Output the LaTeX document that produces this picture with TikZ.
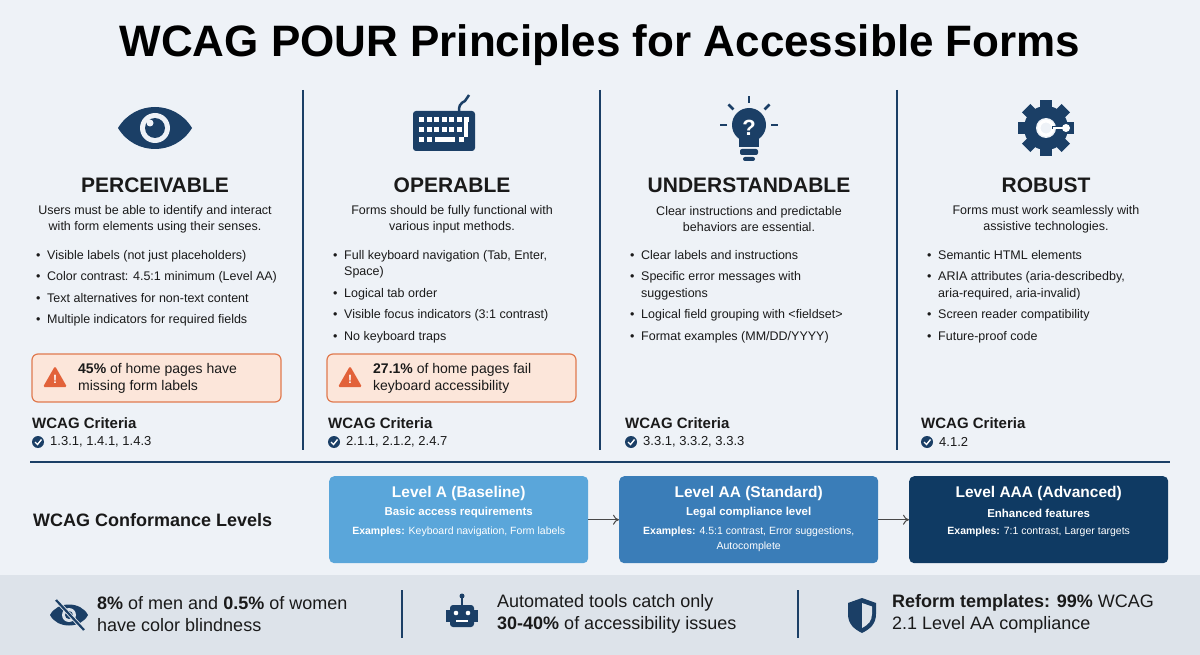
\documentclass[tikz,border=0pt]{standalone}
\usepackage{fontspec}
\setmainfont{Liberation Sans}
\usetikzlibrary{shapes.geometric,arrows.meta}
\definecolor{bg}{HTML}{EEF2F7}
\definecolor{navy}{HTML}{1B3F66}
\definecolor{ink}{HTML}{1A1A1A}
\definecolor{warnf}{HTML}{FCE6DA}
\definecolor{warnb}{HTML}{E07A4F}
\definecolor{warni}{HTML}{E2623A}
\definecolor{la}{HTML}{5AA6DA}
\definecolor{laa}{HTML}{3A7DB8}
\definecolor{laaa}{HTML}{0F3A63}
\definecolor{band}{HTML}{DDE3EA}
\begin{document}
\begin{tikzpicture}[x=1pt,y=-1pt,
  head/.style={font=\fontsize{21}{24}\selectfont\bfseries,text=ink},
  desc/.style={font=\fontsize{12.5}{16}\selectfont,text=ink,align=center},
  bul/.style={font=\fontsize{12.5}{16.5}\selectfont,text=ink,anchor=north west,align=left,inner sep=0},
  warn/.style={draw=warnb,line width=1.2pt,fill=warnf,rounded corners=6pt},
  crit/.style={font=\fontsize{15}{18}\selectfont\bfseries,text=ink,anchor=west,inner sep=0},
  critl/.style={font=\fontsize{13}{16}\selectfont,text=ink,anchor=west,inner sep=0},
  lvl/.style={rounded corners=5pt,minimum width=259pt,minimum height=87pt,anchor=north west},
  sep/.style={draw=navy,line width=1.2pt},
  stat/.style={font=\fontsize{18}{22}\selectfont,text=ink,anchor=west,align=left,inner sep=0}]
\useasboundingbox (0,0) rectangle (1200,655);
\fill[bg] (0,0) rectangle (1200,655);
\fill[band] (0,575) rectangle (1200,655);
\node[font=\fontsize{44}{50}\selectfont\bfseries,text=black] (title) at (600,45) {WCAG POUR Principles for Accessible Forms};
% separators
\foreach \x/\n in {303/s1,600/s2,897/s3}{\draw[sep] (\x,90) coordinate (\n a) -- (\x,450) coordinate (\n b);}
\draw[navy,line width=1.5pt] (30,462) coordinate (hl) -- (1170,462) coordinate (hr);
% eye
\fill[navy] (118,128) .. controls (135,100) and (175,100) .. (192,128) .. controls (175,156) and (135,156) .. (118,128) -- cycle;
\fill[bg] (155,128) circle (15);
\fill[navy] (155,128) circle (10);
\fill[bg] (150,123) circle (3.5);
% keyboard
\fill[navy,rounded corners=3pt] (413,111) rectangle (475,151);
\draw[navy,line width=2.5pt] (459,111) .. controls (459,100) and (465,104) .. (467,98) -- (469,95);
\foreach \i in {0,...,6}{\fill[white] (419+\i*7.5,117) rectangle ++(5,5);}
\foreach \i in {0,...,5}{\fill[white] (419+\i*7.5,127) rectangle ++(5,5);}
\fill[white] (419,137) rectangle ++(5,5); \fill[white] (427,137) rectangle ++(5,5);
\fill[white] (435,137) rectangle ++(20,5); \fill[white] (459,137) rectangle ++(5,5);
\fill[white] (464,122) rectangle ++(4,15);
% bulb
\fill[navy] (749,125) circle (17);
\fill[navy] (739,135) rectangle (759,147);
\fill[navy,rounded corners=2pt] (740,149) rectangle (758,155);
\fill[navy,rounded corners=2pt] (743,157) rectangle (755,161);
\node[text=white,font=\fontsize{22}{22}\selectfont\bfseries] (q) at (749,128) {?};
\foreach \a in {180,225,270,315,0}{\draw[navy,line width=2.5pt] (749,125)++(\a:22) -- ++(\a:7);}
% gear
\fill[navy] (1046,128) circle (22);
\foreach \a in {0,45,...,315}{\fill[navy,rotate around={\a:(1046,128)}] (1040,100) rectangle (1052,110);}
\fill[bg] (1046,128) circle (10);
\draw[white,line width=3pt] (1046,128) circle (7);
\draw[navy,line width=3pt] (1052,128) -- (1066,128);
\draw[white,line width=2.5pt] (1053,128) -- (1064,128);
\fill[white] (1066,128) circle (4);
% headings
\node[head] (h1) at (155,185) {PERCEIVABLE};
\node[head] (h2) at (452,185) {OPERABLE};
\node[head] (h3) at (749,185) {UNDERSTANDABLE};
\node[head] (h4) at (1046,185) {ROBUST};
\node[desc] (d1) at (155,219) {Users must be able to identify and interact\\with form elements using their senses.};
\node[desc] (d2) at (452,219) {Forms should be fully functional with\\various input methods.};
\node[desc] (d3) at (749,219) {Clear instructions and predictable\\behaviors are essential.};
\node[desc] (d4) at (1046,219) {Forms must work seamlessly with\\assistive technologies.};
% bullets
\newcommand{\bi}{\makebox[11pt][l]{\textbullet}}
\node[bul] (b1) at (36,250) {\bi Visible labels (not just placeholders)\\[5pt]\bi Color contrast: 4.5:1 minimum (Level AA)\\[5pt]\bi Text alternatives for non-text content\\[5pt]\bi Multiple indicators for required fields};
\node[bul] (b2) at (333,250) {\bi Full keyboard navigation (Tab, Enter,\\\hspace*{11pt}Space)\\[5pt]\bi Logical tab order\\[5pt]\bi Visible focus indicators (3:1 contrast)\\[5pt]\bi No keyboard traps};
\node[bul] (b3) at (630,250) {\bi Clear labels and instructions\\[5pt]\bi Specific error messages with\\\hspace*{11pt}suggestions\\[5pt]\bi Logical field grouping with <fieldset>\\[5pt]\bi Format examples (MM/DD/YYYY)};
\node[bul] (b4) at (927,250) {\bi Semantic HTML elements\\[5pt]\bi ARIA attributes (aria-describedby,\\\hspace*{11pt}aria-required, aria-invalid)\\[5pt]\bi Screen reader compatibility\\[5pt]\bi Future-proof code};
% warnings
\foreach \x/\n/\t in {32/w1/{\textbf{45\%} of home pages have\\missing form labels},327/w2/{\textbf{27.1\%} of home pages fail\\keyboard accessibility}}{
  \draw[warn] (\x,354) rectangle ++(249,48);
  \fill[warni,rounded corners=1.5pt] (\x+11,387) -- (\x+23,366) -- (\x+35,387) -- cycle;
  \node[text=white,font=\fontsize{12}{12}\selectfont\bfseries] at (\x+23,379.5) {!};
  \node[anchor=west,font=\fontsize{14}{17}\selectfont,text=ink,align=left,inner sep=0] (\n) at (\x+46,378) {\t};
}
% criteria
\foreach \x/\c/\n in {32/{1.3.1, 1.4.1, 1.4.3}/c1,328/{2.1.1, 2.1.2, 2.4.7}/c2,625/{3.3.1, 3.3.2, 3.3.3}/c3,921/{4.1.2}/c4}{
  \node[crit] at (\x,423) {WCAG Criteria};
  \fill[navy] (\x+6,442) circle (6);
  \draw[white,line width=1.4pt] (\x+3,442) -- (\x+5.5,444.5) -- (\x+9.5,439.5);
  \node[critl] (\n) at (\x+18,442) {\c};
}
% conformance
\node[font=\fontsize{18}{22}\selectfont\bfseries,text=ink,anchor=west,inner sep=0] (conf) at (33,520) {WCAG Conformance Levels};
\node[lvl,fill=la] (L1) at (329,476) {};
\node[lvl,fill=laa] (L2) at (619,476) {};
\node[lvl,fill=laaa] (L3) at (909,476) {};
\foreach \n/\a/\b/\c in {L1/{Level A (Baseline)}/{Basic access requirements}/{\textbf{Examples:} Keyboard navigation, Form labels},
  L2/{Level AA (Standard)}/{Legal compliance level}/{\textbf{Examples:} 4.5:1 contrast, Error suggestions,\\Autocomplete},
  L3/{Level AAA (Advanced)}/{Enhanced features}/{\textbf{Examples:} 7:1 contrast, Larger targets}}{
  \node[text=white,font=\fontsize{15.5}{18}\selectfont\bfseries] at ([yshift=-17pt]\n.north) {\a};
  \node[text=white,font=\fontsize{11.5}{14}\selectfont\bfseries] at ([yshift=-37pt]\n.north) {\b};
  \node[text=white,font=\fontsize{10.5}{15}\selectfont,anchor=north,align=center] at ([yshift=-47pt]\n.north) {\c};
}
\draw[-{To[length=6pt,width=10pt]},ink!80,line width=1pt] (L1.east) -- (L2.west);
\draw[-{To[length=6pt,width=10pt]},ink!80,line width=1pt] (L2.east) -- (L3.west);
% bottom band
\draw[sep] (402,590) coordinate (t1) -- (402,638) coordinate (t2);
\draw[sep] (798,590) coordinate (t3) -- (798,638) coordinate (t4);
% eye-slash icon
\fill[navy] (50,615) .. controls (57,601) and (81,601) .. (88,615) .. controls (81,629) and (57,629) .. (50,615) -- cycle;
\fill[band] (69,615) circle (7);
\fill[navy] (69,615) circle (4);
\draw[band,line width=4pt] (56,600) -- (84,630);
\draw[navy,line width=2.2pt] (56,600) -- (84,630);
\node[stat] (st1) at (97,614) {\textbf{8\%} of men and \textbf{0.5\%} of women\\have color blindness};
% robot icon
\fill[navy,rounded corners=3pt] (450,605) rectangle (474,627);
\fill[navy] (446,610) rectangle (450,622); \fill[navy] (474,610) rectangle (478,622);
\draw[navy,line width=2pt] (462,605) -- (462,597); \fill[navy] (462,596) circle (2.5);
\fill[white] (456,613) circle (2.3); \fill[white] (468,613) circle (2.3);
\fill[white] (456,619.5) rectangle (468,621.5);
\node[stat] (st2) at (497,614) {Automated tools catch only\\\textbf{30-40\%} of accessibility issues};
% shield
\fill[navy] (862,598) -- (876,603) -- (876,614) .. controls (876,624) and (870,629) .. (862,633) .. controls (854,629) and (848,624) .. (848,614) -- (848,603) -- cycle;
\fill[band] (862,603) -- (872,606.5) -- (872,614) .. controls (872,621) and (868,625) .. (862,628) -- cycle;
\node[stat] (st3) at (892,614) {\textbf{Reform templates: 99\%} WCAG\\2.1 Level AA compliance};
\end{tikzpicture}
\end{document}
